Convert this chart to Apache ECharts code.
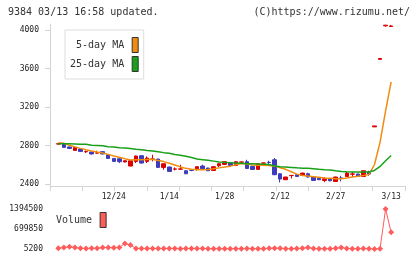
<!DOCTYPE html>
<html><head><meta charset="utf-8">
<script src="https://cdn.jsdelivr.net/npm/echarts@6/dist/echarts.min.js"></script>
<style>html,body{margin:0;padding:0;background:#fff}#c{width:420px;height:259px}</style>
</head><body><div id="c"></div>
<script>
var dates = ['12/10','12/11','12/12','12/13','12/16','12/17','12/18','12/19','12/20','12/23',
'12/24','12/25','12/26','12/27','12/30','1/6','1/7','1/8','1/9','1/10',
'1/14','1/15','1/16','1/17','1/20','1/21','1/22','1/23','1/24','1/27',
'1/28','1/29','1/30','1/31','2/3','2/4','2/5','2/6','2/7','2/10',
'2/12','2/13','2/14','2/17','2/18','2/19','2/20','2/21','2/25','2/26',
'2/27','2/28','3/3','3/4','3/5','3/6','3/7','3/10','3/11','3/12','3/13'];
var openP  = [2817,2822,2787,2751,2766,2737,2734,2723,2738,2706,2668,2665,2631,2589,2637,2696,2637,2660,2661,2575,
2579,2557,2557,2540,2546,2561,2589,2568,2543,2592,2606,2623,2595,2629,2634,2585,2554,2619,2628,2654,
2509,2447,2490,2499,2491,2509,2475,2464,2440,2457,2429,2465,2481,2505,2506,2481,2526,2995,3695,4043,4036];
var closeP = [2820,2783,2772,2782,2741,2739,2714,2725,2714,2668,2637,2634,2644,2644,2693,2620,2672,2662,2575,2613,
2533,2559,2559,2509,2544,2582,2561,2540,2582,2613,2634,2595,2634,2631,2564,2554,2613,2621,2626,2499,
2454,2475,2492,2481,2516,2475,2440,2447,2457,2436,2475,2463,2516,2507,2481,2540,2506,3005,3705,4050,4042];
var lowP   = [2812,2780,2765,2748,2735,2725,2710,2718,2710,2665,2632,2620,2628,2585,2620,2616,2620,2638,2572,2551,
2530,2544,2551,2505,2535,2540,2558,2537,2540,2578,2602,2592,2592,2622,2560,2550,2550,2615,2603,2495,
2419,2444,2460,2478,2488,2470,2436,2444,2422,2432,2426,2430,2478,2475,2478,2478,2488,2995,3695,4033,4036];
var highP  = [2825,2830,2790,2785,2770,2750,2738,2748,2742,2710,2672,2668,2648,2648,2697,2700,2689,2706,2665,2616,
2582,2575,2603,2545,2555,2585,2603,2572,2586,2616,2637,2626,2637,2636,2654,2590,2616,2625,2644,2672,
2512,2478,2495,2502,2520,2520,2478,2467,2475,2460,2478,2488,2533,2527,2510,2543,2540,3005,3705,4050,4052];
var ma5  = [2830,2825,2805,2788,2772,2758,2745,2734,2724,2710,2694,2680,2665,2652,2655,2655,2658,2660,2647,2635,
2618,2600,2580,2565,2555,2551,2551,2552,2560,2570,2580,2588,2603,2615,2610,2600,2598,2597,2595,2588,
2572,2555,2530,2505,2492,2485,2479,2472,2465,2462,2457,2458,2464,2475,2482,2490,2500,2605,2835,3160,3462];
var ma25 = [2821,2820,2819,2818,2816,2814,2805,2803,2800,2790,2786,2778,2775,2770,2762,2757,2750,2746,2738,2728,
2722,2708,2700,2690,2678,2662,2655,2648,2640,2630,2627,2622,2620,2618,2614,2612,2610,2608,2604,2590,
2582,2580,2575,2570,2567,2565,2560,2555,2551,2548,2540,2533,2530,2528,2527,2526,2527,2543,2585,2644,2698];
var volume = [30000,60000,80000,60000,30000,25000,28000,30000,55000,55000,50000,60000,200000,140000,25000,25000,22000,25000,20000,25000,
20000,25000,18000,22000,25000,20000,22000,18000,12000,15000,10000,12000,15000,12000,25000,15000,10000,12000,30000,35000,
30000,15000,12000,20000,30000,55000,25000,15000,12000,15000,30000,55000,25000,15000,12000,20000,15000,5200,9800,1394500,585000];
var xTickLabels = ['12/24','1/14','1/28','2/12','2/27','3/13'];
var yTicks = [2400,2800,3200,3600,4000];
var volTicks = [5200,699850,1394500];

var padL = 1, padR = 2;
function pad(a){ var r=[]; for(var i=0;i<padL;i++) r.push('-'); r=r.concat(a); for(var j=0;j<padR;j++) r.push('-'); return r; }
var cats = []; for (var i=0;i<padL;i++) cats.push(' '+i); cats = cats.concat(dates); for (var j=0;j<padR;j++) cats.push('  '+j);
var kData = dates.map(function(d,i){ return [openP[i], closeP[i], lowP[i], highP[i]]; });
var kPad = pad(kData);
function plain(v){ return String(Math.round(v)); }

var FONT = 'DejaVu Sans Mono';
var AX = '#d4d4d4';
var chart = echarts.init(document.getElementById('c'), null, {renderer:'canvas'});
chart.setOption({
  animation: false,
  backgroundColor: '#fff',
  title: [
    {text: '9384 03/13 16:58 updated.', left: 8, top: 7, padding: 0, textStyle: {fontFamily: FONT, fontSize: 10, fontWeight: 'normal', color: '#333'}},
    {text: '(C)https://www.rizumu.net/', right: 10, top: 7, padding: 0, textStyle: {fontFamily: FONT, fontSize: 10, fontWeight: 'normal', color: '#333'}}
  ],
  legend: [
    {data: ['5-day MA','25-day MA'], orient: 'vertical', left: 65, top: 30, align: 'right', icon: 'rect',
     itemWidth: 6, itemHeight: 15, itemGap: 3, padding: [7, 5, 7, 5], borderColor: '#ddd', borderWidth: 1,
     backgroundColor: '#fff', selectedMode: false,
     itemStyle: {borderColor: '#333', borderWidth: 1},
     textStyle: {fontFamily: FONT, fontSize: 10, color: '#333', width: 58, align: 'right', padding: [0, 3, 0, 0]}},
    {data: ['Volume'], orient: 'vertical', left: 56, top: 212, align: 'right', icon: 'rect',
     itemWidth: 6, itemHeight: 15, padding: 0, selectedMode: false,
     itemStyle: {borderColor: '#333', borderWidth: 1},
     textStyle: {fontFamily: FONT, fontSize: 10, color: '#333', padding: [0, 3, 0, 0]}}
  ],
  grid: [
    {left: 50, right: 15, top: 24, height: 162},
    {left: 50, right: 15, top: 209, height: 40}
  ],
  xAxis: [
    {type: 'category', gridIndex: 0, data: cats, boundaryGap: true, position: 'bottom',
     axisLine: {show: false}, axisTick: {show: false},
     axisLabel: {interval: function(idx, v){ return xTickLabels.indexOf(v) >= 0; }, fontFamily: FONT, fontSize: 8, color: '#222', margin: 7},
     splitLine: {show: false}},
    {type: 'value', gridIndex: 0, min: 0, max: 11, interval: 1, position: 'bottom',
     axisLine: {show: true, lineStyle: {color: AX}}, axisTick: {show: true, length: 5, lineStyle: {color: AX}},
     axisLabel: {show: false}, splitLine: {show: false}},
    {type: 'category', gridIndex: 1, data: cats, boundaryGap: true, show: false}
  ],
  yAxis: [
    {type: 'value', gridIndex: 0, min: 2382, max: 4062,
     axisLine: {show: true, lineStyle: {color: AX}},
     axisTick: {show: true, length: 5, customValues: yTicks, lineStyle: {color: AX}},
     axisLabel: {customValues: yTicks, formatter: plain, fontFamily: FONT, fontSize: 8, color: '#222', margin: 11},
     splitLine: {show: false}},
    {type: 'value', gridIndex: 1, min: 5200, max: 1394500,
     axisLine: {show: false}, axisTick: {show: false},
     axisLabel: {customValues: volTicks, formatter: plain, fontFamily: FONT, fontSize: 8, color: '#222', margin: 7},
     splitLine: {show: false}}
  ],
  series: [
    {name: 'Price', type: 'candlestick', xAxisIndex: 0, yAxisIndex: 0, data: kPad, barWidth: 4,
     itemStyle: {color: '#dd0000', color0: '#3c3cbc', borderColor: '#dd0000', borderColor0: '#3c3cbc', borderWidth: 1}, z: 2},
    {name: '5-day MA', type: 'line', xAxisIndex: 0, yAxisIndex: 0, data: pad(ma5), showSymbol: false, symbol: 'none',
     lineStyle: {color: '#f08c10', width: 1.5}, itemStyle: {color: '#f08c10'}, z: 3},
    {name: '25-day MA', type: 'line', xAxisIndex: 0, yAxisIndex: 0, data: pad(ma25), showSymbol: false, symbol: 'none',
     lineStyle: {color: '#18a018', width: 1.5}, itemStyle: {color: '#18a018'}, z: 3},
    {name: 'Volume', type: 'line', xAxisIndex: 2, yAxisIndex: 1, data: pad(volume), symbol: 'diamond', symbolSize: 6,
     showAllSymbol: true, lineStyle: {color: '#ff5c5c', width: 1}, itemStyle: {color: '#ff5c5c'}}
  ]
});
</script></body></html>
